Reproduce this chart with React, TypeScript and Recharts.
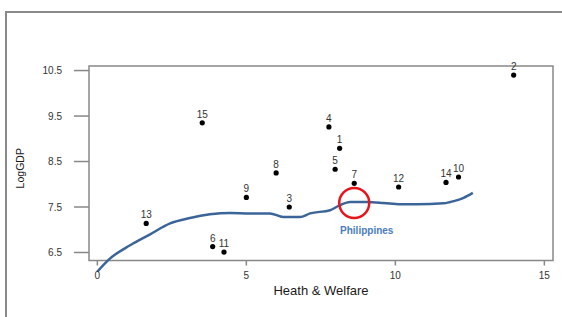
import {
  ComposedChart,
  Line,
  ReferenceArea,
  ReferenceDot,
  Scatter,
  XAxis,
  YAxis,
} from "recharts";

// country scatter (id, Health & Welfare score, log GDP)
const countryIds = [1, 2, 3, 4, 5, 6, 7, 8, 9, 10, 11, 12, 13, 14, 15];
const welfare = [8.13, 13.97, 6.44, 7.77, 7.98, 3.87, 8.62, 6.0, 5.0, 12.12, 4.25, 10.11, 1.64, 11.7, 3.52];
const logGdp = [8.79, 10.4, 7.5, 9.26, 8.33, 6.63, 8.02, 8.25, 7.71, 8.16, 6.51, 7.94, 7.14, 8.04, 9.35];

// smoothed fit curve
const curveX = [0, 0.43, 1.1, 1.77, 2.44, 3.11, 3.78, 4.45, 5.12, 5.79, 6.24, 6.8, 7.14, 7.81, 8.14, 8.48, 9.04, 9.6, 10.16, 10.72, 11.62, 11.84, 12.29, 12.6];
const curveY = [6.08, 6.37, 6.66, 6.9, 7.14, 7.26, 7.34, 7.37, 7.36, 7.36, 7.28, 7.28, 7.36, 7.43, 7.54, 7.61, 7.61, 7.59, 7.56, 7.56, 7.58, 7.61, 7.7, 7.81];

const xTicks = [0, 5, 10, 15];
const yTicks = [6.5, 7.5, 8.5, 9.5, 10.5];
const xDomain: [number, number] = [-0.28, 15.29];
const yDomain: [number, number] = [6.324, 10.6];

// highlighted country
const highlight = { x: 8.62, y: 7.59 };
const highlightLabel = { x: 9.04, y: 6.98, text: "Philippines" };

const points = countryIds.map((id, i) => ({ id, x: welfare[i], y: logGdp[i] }));
const curve = curveX.map((x, i) => ({ x, y: curveY[i] }));

const FONT = "'Liberation Sans', Arial, sans-serif";

const DotWithLabel = (props: any) => {
  const { cx, cy, payload } = props;
  return (
    <g>
      <circle cx={cx} cy={cy} r={2.6} fill="#000" />
      <text x={cx} y={cy - 5} textAnchor="middle" fontSize={10} fill="#333" fontFamily={FONT}>
        {payload.id}
      </text>
    </g>
  );
};

export default function App() {
  return (
    <div style={{ position: "absolute", left: 0, top: 0, width: 562, height: 317, background: "#fff", fontFamily: FONT }}>
      {/* the fitted curve runs a little below the plot box in the original */}
      <style>{".recharts-wrapper svg [clip-path] { clip-path: none !important; }"}</style>
      <div
        style={{
          position: "absolute",
          left: 5,
          top: 11,
          width: 557,
          height: 306,
          boxSizing: "border-box",
          borderTop: "2px solid #8a8a8a",
          borderLeft: "2px solid #8a8a8a",
        }}
      />
      <ComposedChart
        width={562}
        height={317}
        margin={{ top: 66, right: 9, bottom: 26.5, left: 0 }}
        style={{ position: "absolute", left: 0, top: 0 }}
      >
        <XAxis
          type="number"
          dataKey="x"
          domain={xDomain}
          ticks={xTicks}
          allowDataOverflow
          axisLine={false}
          tickLine={{ stroke: "#888", strokeWidth: 1.5 }}
          tickSize={5}
          tickMargin={6}
          tick={{ fontSize: 10, fill: "#333" }}
          height={30}
          label={(p: any) => {
            const vb = p.viewBox;
            return (
              <text x={vb.x + vb.width / 2} y={vb.y + 34} textAnchor="middle" fontSize={13} fill="#1a1a1a" fontFamily={FONT}>
                Heath &amp; Welfare
              </text>
            );
          }}
        />
        <YAxis
          type="number"
          dataKey="y"
          domain={yDomain}
          ticks={yTicks}
          allowDataOverflow
          axisLine={false}
          tickLine={{ stroke: "#888", strokeWidth: 1.5 }}
          tickSize={15}
          tickMargin={12}
          tick={{ fontSize: 10, fill: "#333" }}
          width={89}
          label={(p: any) => {
            const vb = p.viewBox;
            const cy = vb.y + vb.height / 2 + 5;
            return (
              <text x={24} y={cy} transform={`rotate(-90 24 ${cy})`} textAnchor="middle" fontSize={10.5} fill="#1a1a1a" fontFamily={FONT}>
                LogGDP
              </text>
            );
          }}
        />
        <ReferenceArea
          x1={xDomain[0]}
          x2={xDomain[1]}
          y1={yDomain[0]}
          y2={yDomain[1]}
          fill="none"
          fillOpacity={0}
          stroke="#888"
          strokeWidth={1.5}
        />
        <Line
          data={curve}
          dataKey="y"
          type="monotone"
          stroke="#3b6499"
          strokeWidth={2.5}
          dot={false}
          activeDot={false}
          isAnimationActive={false}
        />
        <Scatter data={points} dataKey="y" shape={DotWithLabel} isAnimationActive={false} />
        <ReferenceDot
          x={highlight.x}
          y={highlight.y}
          r={15}
          fill="none"
          stroke="#e8141b"
          strokeWidth={2.5}
        />
        <ReferenceDot
          x={highlightLabel.x}
          y={highlightLabel.y}
          r={0}
          fill="none"
          stroke="none"
          label={{
            value: highlightLabel.text,
            position: "center",
            fill: "#4a7cc0",
            fontSize: 10,
            fontWeight: "bold",
          }}
        />
      </ComposedChart>
    </div>
  );
}
